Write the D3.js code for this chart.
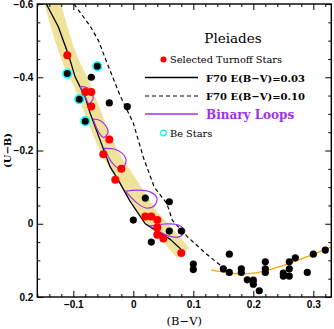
<!DOCTYPE html>
<html>
<head>
<meta charset="utf-8">
<script src="https://cdn.jsdelivr.net/npm/d3@7.9.0/dist/d3.min.js"></script>
<style>
  body { margin: 0; background: #fff; }
  svg { display: block; }
  .tick text { font-family: "Liberation Sans", Arial, sans-serif; font-size: 10px; font-weight: bold; }
</style>
</head>
<body>
<div id="chart"></div>
<script>
// (B-V), (U-B) pairs
const turnoffStars = [
  [-0.11, -0.46], [-0.08, -0.36], [-0.07, -0.36], [-0.07, -0.32], [-0.04, -0.23],
  [-0.05, -0.19], [-0.02, -0.15], [-0.03, -0.12], [0.02, -0.02], [0.03, -0.02],
  [0.04, -0.01], [0.04, 0.01], [0.04, 0.03], [0.05, 0.04], [0.08, 0.08]
];
const beStars = [[-0.11, -0.41], [-0.06, -0.43], [-0.09, -0.34], [-0.08, -0.28]];
const otherStars = [
  [-0.07, -0.40], [-0.04, -0.33], [-0.01, -0.32], [0.0, -0.01], [0.02, -0.07],
  [0.03, 0.05], [0.06, -0.06], [0.06, 0.02], [0.08, 0.02], [0.10, 0.11], [0.10, 0.125],
  [0.15, 0.123], [0.16, 0.083], [0.16, 0.133], [0.18, 0.123], [0.18, 0.133],
  [0.19, 0.153], [0.20, 0.154], [0.20, 0.165], [0.21, 0.183], [0.22, 0.104],
  [0.22, 0.123], [0.22, 0.133], [0.25, 0.135], [0.25, 0.143], [0.26, 0.104],
  [0.26, 0.123], [0.26, 0.143], [0.27, 0.093], [0.29, 0.133], [0.30, 0.083], [0.32, 0.072]
];
const iso003 = [
  [-0.145, -0.60], [-0.125, -0.538], [-0.108, -0.461], [-0.097, -0.401], [-0.0805, -0.347],
  [-0.072, -0.302], [-0.0555, -0.229], [-0.0388, -0.156], [-0.025, -0.119], [-0.0055, -0.062],
  [0.02, 0.0], [0.0395, 0.02], [0.061, 0.042], [0.081, 0.072]
];
const iso010 = [
  [-0.099, -0.60], [-0.072, -0.54], [-0.058, -0.50], [-0.044, -0.44], [-0.022, -0.35],
  [0.0, -0.275], [0.017, -0.18], [0.035, -0.10], [0.056, -0.055], [0.065, -0.01],
  [0.09, 0.035], [0.12, 0.08], [0.15, 0.12]
];
const band = [
  [-0.137, -0.616], [-0.117, -0.502], [-0.104, -0.442], [-0.0855, -0.379], [-0.064, -0.289],
  [-0.049, -0.229], [-0.032, -0.174], [-0.0155, -0.133], [0.011, -0.065], [0.031, -0.016],
  [0.053, 0.0225], [0.083, 0.08]
];
const loops = [
  [[-0.089, -0.375], [-0.077, -0.371], [-0.069, -0.357], [-0.067, -0.341], [-0.074, -0.328], [-0.0805, -0.349], [-0.089, -0.375]],
  [[-0.067, -0.286], [-0.0555, -0.282], [-0.0455, -0.267], [-0.042, -0.2505], [-0.049, -0.2355], [-0.057, -0.248], [-0.067, -0.286]],
  [[-0.049, -0.206], [-0.032, -0.204], [-0.019, -0.193], [-0.012, -0.174], [-0.019, -0.1495], [-0.032, -0.160], [-0.049, -0.206]],
  [[-0.013, -0.089], [0.008, -0.092], [0.028, -0.087], [0.0395, -0.070], [0.0345, -0.0485], [0.021, -0.043], [0.006, -0.057], [-0.013, -0.089]],
  [[0.028, 0.006], [0.053, 0.0007], [0.0745, 0.0034], [0.086, 0.0198], [0.076, 0.036], [0.058, 0.033], [0.0445, 0.0225], [0.028, 0.006]]
];
const zamsFit = [[0.13, 0.126], [0.17, 0.136], [0.20, 0.135], [0.23, 0.124], [0.26, 0.108], [0.29, 0.09], [0.33, 0.063]];
const xTicks = [-0.1, 0, 0.1, 0.2, 0.3];
const yTicks = [-0.6, -0.4, -0.2, 0, 0.2];

const W = 334, H = 329;
const L = 37.3, R = 331.3, T = 4, B = 297;

const x = d3.scaleLinear().domain([-0.16, 0.33]).range([L, R]);
const y = d3.scaleLinear().domain([-0.6, 0.2]).range([T, B]);

const svg = d3.select('#chart').append('svg').attr('width', W).attr('height', H);

svg.append('clipPath').attr('id', 'clip')
  .append('rect').attr('x', L).attr('y', T).attr('width', R - L).attr('height', B - T);

const plot = svg.append('g').attr('clip-path', 'url(#clip)');
const line = d3.line().x(d => x(d[0])).y(d => y(d[1]));

plot.append('path').attr('d', line.curve(d3.curveCatmullRom)(band))
  .attr('fill', 'none').attr('stroke', '#efe39b').attr('stroke-width', 16);

plot.append('path').attr('d', d3.line().x(d => x(d[0])).y(d => y(d[1])).curve(d3.curveCatmullRom)(zamsFit))
  .attr('fill', 'none').attr('stroke', '#ffa500').attr('stroke-width', 1.3);

plot.append('path').attr('d', d3.line().x(d => x(d[0])).y(d => y(d[1]))(iso010))
  .attr('fill', 'none').attr('stroke', '#000').attr('stroke-width', 1.2).attr('stroke-dasharray', '4,3');

plot.append('path').attr('d', d3.line().x(d => x(d[0])).y(d => y(d[1]))(iso003))
  .attr('fill', 'none').attr('stroke', '#000').attr('stroke-width', 1.3);

plot.selectAll('.loop').data(loops).enter().append('path')
  .attr('d', d => d3.line().x(p => x(p[0])).y(p => y(p[1])).curve(d3.curveCatmullRom)(d))
  .attr('fill', 'none').attr('stroke', '#a030f0').attr('stroke-width', 1.2);

plot.selectAll('.other').data(otherStars).enter().append('circle')
  .attr('cx', d => x(d[0])).attr('cy', d => y(d[1])).attr('r', 3.6).attr('fill', '#000');

plot.selectAll('.be').data(beStars).enter().append('circle')
  .attr('cx', d => x(d[0])).attr('cy', d => y(d[1])).attr('r', 4.3)
  .attr('fill', '#000').attr('stroke', '#00ffff').attr('stroke-width', 1.6);

plot.selectAll('.red').data(turnoffStars).enter().append('circle')
  .attr('cx', d => x(d[0])).attr('cy', d => y(d[1])).attr('r', 4).attr('fill', '#ff0000');

// axes, ticks inside on all four sides
const fmt = d => d === 0 ? '0' : d3.format('.1f')(d).replace('-', '\u2212');
const xMinor = d3.range(-16, 34, 2).map(v => v / 100).filter(v => !xTicks.some(t => Math.abs(t - v) < 1e-9));
const yMinor = d3.range(-60, 21, 5).map(v => v / 100).filter(v => !yTicks.some(t => Math.abs(t - v) < 1e-9));

function addAxis(axis, tr) {
  const g = svg.append('g').attr('transform', tr).call(axis);
  g.select('.domain').remove();
  g.selectAll('line').attr('stroke', '#000').attr('stroke-width', 1);
  return g;
}
addAxis(d3.axisBottom(x).tickValues(xTicks).tickSize(-6).tickPadding(4).tickFormat(fmt), `translate(0,${B})`);
addAxis(d3.axisBottom(x).tickValues(xMinor).tickSize(-3).tickFormat(''), `translate(0,${B})`);
addAxis(d3.axisTop(x).tickValues(xTicks).tickSize(-6).tickFormat(''), `translate(0,${T})`);
addAxis(d3.axisTop(x).tickValues(xMinor).tickSize(-3).tickFormat(''), `translate(0,${T})`);
addAxis(d3.axisLeft(y).tickValues(yTicks).tickSize(-6).tickPadding(4).tickFormat(fmt), `translate(${L},0)`);
addAxis(d3.axisLeft(y).tickValues(yMinor).tickSize(-3).tickFormat(''), `translate(${L},0)`);
addAxis(d3.axisRight(y).tickValues(yTicks).tickSize(-6).tickFormat(''), `translate(${R},0)`);
addAxis(d3.axisRight(y).tickValues(yMinor).tickSize(-3).tickFormat(''), `translate(${R},0)`);

svg.append('rect').attr('x', L).attr('y', T).attr('width', R - L).attr('height', B - T)
  .attr('fill', 'none').attr('stroke', '#000').attr('stroke-width', 1.4);

svg.append('text').attr('x', (L + R) / 2).attr('y', 325).attr('text-anchor', 'middle')
  .style('font-family', 'DejaVu Serif').style('font-size', '11.5px').text('(B\u2212V)');
svg.append('text').attr('transform', `translate(11,${(T + B) / 2}) rotate(-90)`).attr('text-anchor', 'middle')
  .style('font-family', 'DejaVu Serif').style('font-size', '10px').style('font-weight', 'bold').text('(U\u2212B)');

// legend
const lg = svg.append('g');
lg.append('text').attr('x', 233).attr('y', 43).attr('text-anchor', 'middle')
  .style('font-family', 'DejaVu Serif').style('font-size', '13.5px').text('Pleiades');
lg.append('circle').attr('cx', 163.5).attr('cy', 59.5).attr('r', 3).attr('fill', '#ff0000');
lg.append('text').attr('x', 170).attr('y', 63).style('font-family', 'DejaVu Serif').style('font-size', '9.8px')
  .text('Selected Turnoff Stars');
lg.append('line').attr('x1', 145).attr('x2', 198).attr('y1', 77.5).attr('y2', 77.5).attr('stroke', '#000').attr('stroke-width', 1.3);
lg.append('text').attr('x', 206).attr('y', 81.5).style('font-family', 'DejaVu Serif').style('font-size', '10px').style('font-weight', 'bold')
  .text('F70 E(B\u2212V)=0.03');
lg.append('line').attr('x1', 145).attr('x2', 198).attr('y1', 96).attr('y2', 96).attr('stroke', '#000').attr('stroke-width', 1.2).attr('stroke-dasharray', '4,3');
lg.append('text').attr('x', 206).attr('y', 100).style('font-family', 'DejaVu Serif').style('font-size', '10px').style('font-weight', 'bold')
  .text('F70 E(B\u2212V)=0.10');
lg.append('line').attr('x1', 145).attr('x2', 198).attr('y1', 114).attr('y2', 114).attr('stroke', '#a030f0').attr('stroke-width', 1.3);
lg.append('text').attr('x', 206).attr('y', 118.5).style('font-family', 'DejaVu Serif').style('font-size', '12px').style('font-weight', 'bold')
  .attr('fill', '#a030f0').text('Binary Loops');
lg.append('circle').attr('cx', 163.5).attr('cy', 133).attr('r', 2.8).attr('fill', 'none').attr('stroke', '#00ffff').attr('stroke-width', 1.3);
lg.append('text').attr('x', 170).attr('y', 136.5).style('font-family', 'DejaVu Serif').style('font-size', '9.8px')
  .text('Be Stars');
</script>
</body>
</html>
